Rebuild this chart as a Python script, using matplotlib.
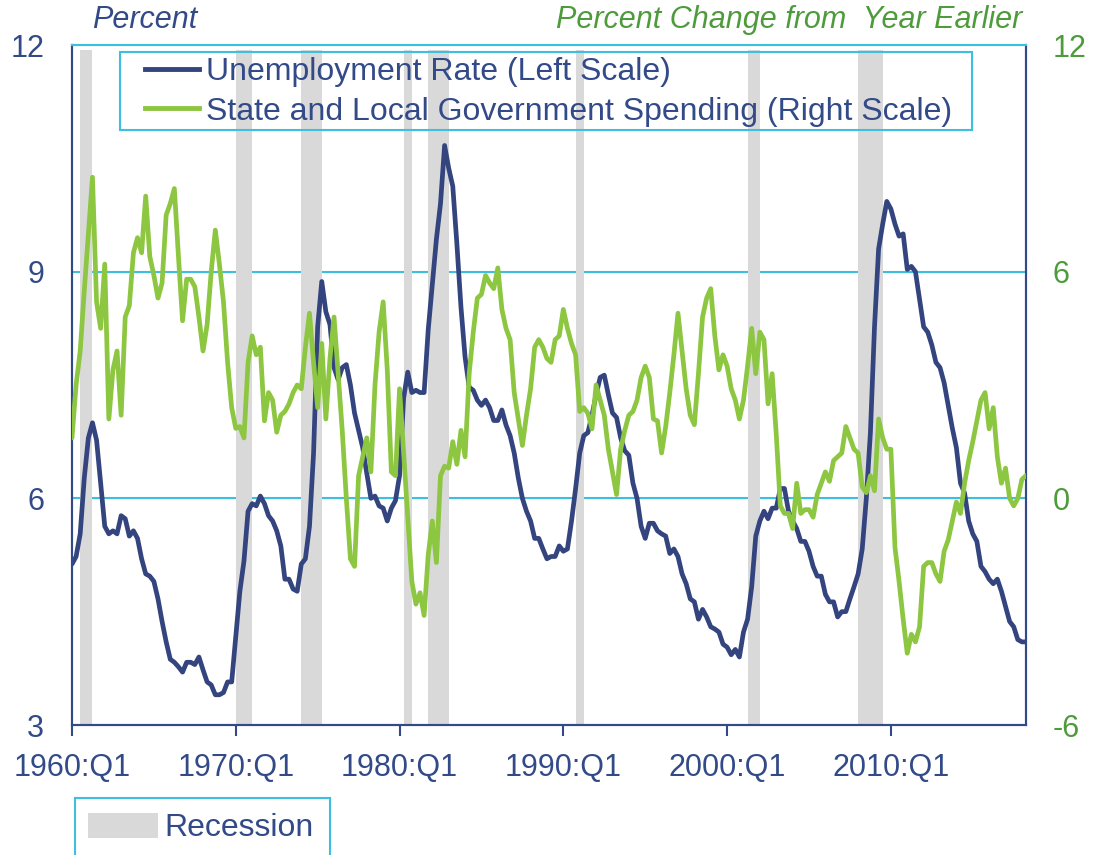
import matplotlib.pyplot as plt
from matplotlib.lines import Line2D
from matplotlib.patches import Patch, Rectangle

plt.rcParams["font.family"] = ["Liberation Sans", "DejaVu Sans"]

NAVY = "#334a88"
BLUE_LINE = "#33447f"
GREEN_LINE = "#8dc641"
GREEN_TEXT = "#4e9b3c"
CYAN = "#3dbfe0"
GRAY = "#d9d9d9"

# quarterly data, 1960:Q1 onwards
start_year = 1960

unemployment = [
    5.13, 5.23, 5.53, 6.27, 6.80, 7.00, 6.77, 6.20, 5.63, 5.53, 5.57, 5.53,
    5.77, 5.73, 5.50, 5.57, 5.47, 5.20, 5.00, 4.97, 4.90, 4.67, 4.37, 4.10,
    3.87, 3.83, 3.77, 3.70, 3.83, 3.83, 3.80, 3.90, 3.73, 3.57, 3.53, 3.40,
    3.40, 3.43, 3.57, 3.57, 4.17, 4.77, 5.17, 5.83, 5.93, 5.90, 6.03, 5.93,
    5.77, 5.70, 5.57, 5.37, 4.93, 4.93, 4.80, 4.77, 5.13, 5.20, 5.63, 6.60,
    8.27, 8.87, 8.47, 8.30, 7.73, 7.57, 7.73, 7.77, 7.50, 7.13, 6.90, 6.67,
    6.33, 6.00, 6.03, 5.90, 5.87, 5.70, 5.87, 5.97, 6.30, 7.33, 7.67, 7.40,
    7.43, 7.40, 7.40, 8.23, 8.83, 9.43, 9.90, 10.67, 10.37, 10.13, 9.37, 8.53,
    7.87, 7.47, 7.43, 7.30, 7.23, 7.30, 7.20, 7.03, 7.03, 7.17, 6.97, 6.83,
    6.60, 6.27, 6.00, 5.83, 5.70, 5.47, 5.47, 5.33, 5.20, 5.23, 5.23, 5.37,
    5.30, 5.33, 5.70, 6.13, 6.60, 6.83, 6.87, 7.10, 7.37, 7.60, 7.63, 7.37,
    7.13, 7.07, 6.80, 6.63, 6.57, 6.20, 6.00, 5.63, 5.47, 5.67, 5.67, 5.57,
    5.53, 5.50, 5.27, 5.33, 5.23, 5.00, 4.87, 4.67, 4.63, 4.40, 4.53, 4.43,
    4.30, 4.27, 4.23, 4.07, 4.03, 3.93, 4.00, 3.90, 4.23, 4.40, 4.83, 5.50,
    5.70, 5.83, 5.73, 5.87, 5.87, 6.13, 6.13, 5.83, 5.70, 5.60, 5.43, 5.43,
    5.30, 5.10, 4.97, 4.97, 4.73, 4.63, 4.63, 4.43, 4.50, 4.50, 4.67, 4.83,
    5.00, 5.33, 6.00, 6.87, 8.27, 9.30, 9.63, 9.93, 9.83, 9.63, 9.47, 9.50,
    9.03, 9.07, 9.00, 8.63, 8.27, 8.20, 8.03, 7.80, 7.73, 7.53, 7.23, 6.93,
    6.67, 6.20, 6.07, 5.70, 5.53, 5.43, 5.10, 5.03, 4.93, 4.87, 4.93, 4.77,
    4.57, 4.37, 4.30, 4.13, 4.10, 4.10,
]

state_local_spending = [
    1.6, 3.0, 3.9, 5.5, 7.0, 8.5, 5.2, 4.5, 6.2, 2.1,
    3.4, 3.9, 2.2, 4.8, 5.1, 6.5, 6.9, 6.5, 8.0, 6.4,
    5.9, 5.3, 5.7, 7.5, 7.8, 8.2, 6.4, 4.7, 5.8, 5.8,
    5.6, 4.8, 3.9, 4.6, 6.0, 7.1, 6.2, 5.2, 3.6, 2.4,
    1.85, 1.9, 1.6, 3.6, 4.3, 3.8, 4.0, 2.05, 2.8, 2.6,
    1.75, 2.2, 2.3, 2.5, 2.8, 3.0, 2.9, 4.0, 4.9, 3.6,
    2.4, 4.1, 2.1, 3.7, 4.8, 3.3, 1.8, 0.0, -1.6, -1.8,
    0.6, 1.1, 1.6, 0.7, 3.0, 4.4, 5.2, 3.4, 0.7, 0.6,
    2.9, 1.2, -0.5, -2.2, -2.8, -2.5, -3.1, -1.5, -0.6, -1.7,
    0.6, 0.85, 0.8, 1.5, 0.9, 1.8, 1.1, 3.3, 4.4, 5.3,
    5.4, 5.9, 5.7, 5.55, 6.1, 5.0, 4.5, 4.2, 2.8, 2.1,
    1.4, 2.2, 2.9, 4.0, 4.2, 4.0, 3.7, 3.6, 4.2, 4.3,
    5.0, 4.5, 4.1, 3.8, 2.3, 2.4, 2.25, 1.84, 3.0, 2.6,
    2.2, 1.3, 0.7, 0.1, 1.3, 1.8, 2.2, 2.3, 2.6, 3.2,
    3.5, 3.2, 2.1, 2.05, 1.2, 1.9, 2.8, 3.8, 4.9, 3.9,
    2.9, 2.2, 1.95, 3.3, 4.8, 5.3, 5.55, 4.3, 3.4, 3.8,
    3.5, 2.9, 2.6, 2.1, 2.6, 3.5, 4.5, 3.3, 4.4, 4.2,
    2.5, 3.3, 1.7, -0.2, -0.4, -0.4, -0.8, 0.4, -0.4, -0.3,
    -0.3, -0.5, 0.1, 0.4, 0.7, 0.45, 1.0, 1.1, 1.2, 1.9,
    1.6, 1.3, 1.2, 0.3, 0.15, 0.6, 0.2, 2.1, 1.6, 1.3,
    1.3, -1.3, -2.2, -3.2, -4.1, -3.6, -3.8, -3.4, -1.8, -1.7,
    -1.7, -2.0, -2.2, -1.4, -1.1, -0.6, -0.1, -0.4, 0.4, 1.0,
    1.5, 2.05, 2.6, 2.8, 1.84, 2.4, 1.1, 0.4, 0.8, 0.0,
    -0.2, 0.0, 0.5, 0.6,
]

tick_labels = ["1960:Q1", "1970:Q1", "1980:Q1", "1990:Q1", "2000:Q1", "2010:Q1"]

# first and last quarter of each recession
recessions = [
    ("1960:Q3", "1961:Q1"), ("1970:Q1", "1970:Q4"), ("1974:Q1", "1975:Q1"),
    ("1980:Q2", "1980:Q3"), ("1981:Q4", "1982:Q4"), ("1990:Q4", "1991:Q1"),
    ("2001:Q2", "2001:Q4"), ("2008:Q1", "2009:Q2"),
]

left_ticks = [3, 6, 9, 12]
right_ticks = [-6, 0, 6, 12]


def q_index(label):
    year, q = label.split(":Q")
    return (int(year) - start_year) * 4 + int(q) - 1


x = list(range(len(unemployment)))

W, H = 1093, 855
fig = plt.figure(figsize=(W / 100, H / 100), dpi=100)
ax = fig.add_axes([72 / W, 1 - 725 / H, (1026 - 72) / W, (725 - 45) / H])
ax2 = ax.twinx()

for lvl in [6, 9]:
    ax.axhline(lvl, color=CYAN, lw=1.5, zorder=0)

for s, e in recessions:
    ax.axvspan(q_index(s), q_index(e) + 1, ymax=0.992, color=GRAY, lw=0, zorder=1)

ax.plot(x, unemployment, color=BLUE_LINE, lw=3.4, zorder=3,
        solid_joinstyle="round", solid_capstyle="round")
ax2.plot(x, state_local_spending, color=GREEN_LINE, lw=3.4, zorder=3,
         solid_joinstyle="round", solid_capstyle="round")

ax.set_xlim(0, len(unemployment) - 1)
ax.set_ylim(3, 12)
ax2.set_ylim(-6, 12)

ax.set_xticks([q_index(t) for t in tick_labels])
ax.set_xticklabels(tick_labels)
ax.set_yticks(left_ticks)
ax.set_yticklabels([str(v) for v in left_ticks])
ax2.set_yticks(right_ticks)
ax2.set_yticklabels([str(v) for v in right_ticks])

ax.tick_params(axis="x", length=8, width=1.5, color=NAVY, direction="out",
               labelsize=22, labelcolor=NAVY, pad=12)
ax.tick_params(axis="y", length=0, labelsize=22, labelcolor=NAVY, pad=20)
ax2.tick_params(axis="y", length=0, labelsize=22, labelcolor=GREEN_TEXT, pad=19)

for a in (ax, ax2):
    for side in ("left", "right", "bottom"):
        a.spines[side].set_color(NAVY)
        a.spines[side].set_linewidth(1.5)
    a.spines["top"].set_color(CYAN)
    a.spines["top"].set_linewidth(1.5)

fig.text(92 / W, 1 - 20 / H, "Percent", fontsize=22, style="italic",
         color=NAVY, va="center", ha="left")
fig.text(1022 / W, 1 - 20 / H, "Percent Change from  Year Earlier", fontsize=22,
         style="italic", color=GREEN_TEXT, va="center", ha="right")

# series legend
fig.add_artist(Rectangle((120 / W, 1 - 130 / H), 852 / W, 78 / H,
                         transform=fig.transFigure, fill=False,
                         edgecolor=CYAN, lw=1.5, zorder=5))
handles = [Line2D([], [], color=BLUE_LINE, lw=3.5),
           Line2D([], [], color=GREEN_LINE, lw=3.5)]
labels = ["Unemployment Rate (Left Scale)",
          "State and Local Government Spending (Right Scale)"]
ax2.legend(handles, labels, loc="upper left", bbox_to_anchor=(145 / W, 1 - 57 / H),
           bbox_transform=fig.transFigure, frameon=False, fontsize=23,
           labelcolor=NAVY, handlelength=1.7, handletextpad=0.2,
           labelspacing=0.3, borderpad=0, borderaxespad=0)

# recession legend
fig.add_artist(Rectangle((75 / W, -0.05), 255 / W, 0.05 + (855 - 798) / H,
                         transform=fig.transFigure, fill=False,
                         edgecolor=CYAN, lw=1.5))
fig.legend([Patch(facecolor=GRAY, edgecolor="none")], ["Recession"],
           loc="center left", bbox_to_anchor=(88 / W, 1 - 828 / H),
           frameon=False, fontsize=23, labelcolor=NAVY, handlelength=2.2,
           handleheight=0.85, handletextpad=0.2, borderpad=0, borderaxespad=0)

fig.savefig("out.png", dpi=100)
